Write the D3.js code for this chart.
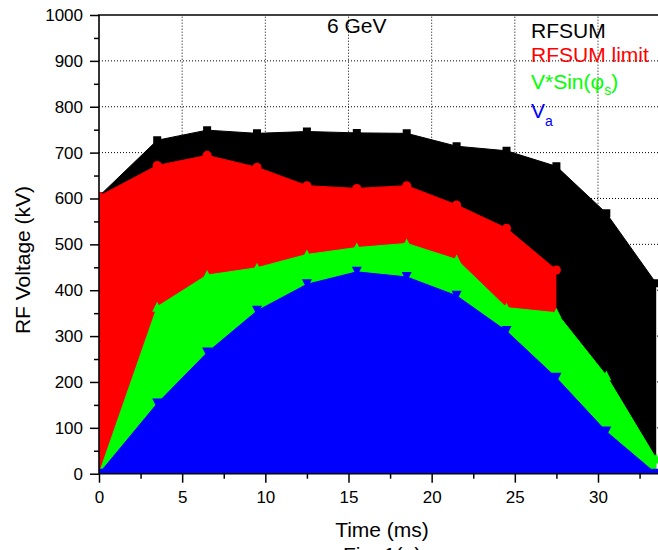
<!DOCTYPE html>
<html>
<head>
<meta charset="utf-8">
<script src="https://cdn.jsdelivr.net/npm/d3@7"></script>
<style>
  html, body { margin: 0; padding: 0; background: #fff; }
  svg { display: block; overflow: hidden; }
  text { font-family: "Liberation Sans", Arial, sans-serif; }
</style>
</head>
<body>
<div id="chart"></div>
<script>
// Time samples (ms) and RF voltages (kV) for the 6 GeV ramp
const times      = [0, 3.5, 6.5, 9.5, 12.5, 15.5, 18.5, 21.5, 24.5, 27.5, 30.5, 33.5];
const rfsum      = [605, 727, 749, 742, 746, 743, 742, 714, 704, 670, 568, 415];
const rfsumLimit = [605, 672, 694, 668, 628, 622, 628, 586, 535, 444];
const vSinPhi    = [0, 364, 433, 449, 478, 493, 502, 467, 362, 351, 214, 33];
const va         = [0, 153, 264, 355, 413, 440, 429, 388, 311, 209, 92, 0];

const xMajorTicks = [0, 5, 10, 15, 20, 25, 30];
const xMinorTicks = [2.5, 7.5, 12.5, 17.5, 22.5, 27.5, 32.5];
const yMajorTicks = [0, 100, 200, 300, 400, 500, 600, 700, 800, 900, 1000];
const yMinorTicks = [50, 150, 250, 350, 450, 550, 650, 750, 850, 950];

const W = 658, H = 550;
const plotLeft = 99, plotTop = 15, plotBottom = 473.7;
const pxPerMs = 16.633;
const xMax = 35;

const svg = d3.select("#chart").append("svg")
  .attr("width", W).attr("height", H);

const x = d3.scaleLinear().domain([0, xMax]).range([plotLeft, plotLeft + xMax * pxPerMs]);
const y = d3.scaleLinear().domain([0, 1000]).range([plotBottom, plotTop]);

svg.append("defs").append("clipPath").attr("id", "plot-clip")
  .append("rect")
  .attr("x", x(0)).attr("y", y(1000))
  .attr("width", x(xMax) - x(0)).attr("height", y(0) - y(1000));

// dotted grid behind the filled areas
const grid = svg.append("g").attr("clip-path", "url(#plot-clip)");
grid.selectAll("line.gx").data(xMajorTicks.filter(t => t > 0)).join("line")
  .attr("class", "gx")
  .attr("x1", d => x(d)).attr("x2", d => x(d))
  .attr("y1", y(0)).attr("y2", y(1000))
  .attr("stroke", "#000").attr("stroke-width", 1).attr("stroke-dasharray", "1,2");
grid.selectAll("line.gy").data(yMajorTicks.filter(v => v > 0 && v < 1000)).join("line")
  .attr("class", "gy")
  .attr("x1", x(0)).attr("x2", x(xMax))
  .attr("y1", d => y(d)).attr("y2", d => y(d))
  .attr("stroke", "#000").attr("stroke-width", 1).attr("stroke-dasharray", "1,2");

const series = [
  { name: "RFSUM",       values: rfsum,      color: "#000000", marker: "square" },
  { name: "RFSUM limit", values: rfsumLimit, color: "#ff0000", marker: "circle" },
  { name: "VsinPhi",     values: vSinPhi,    color: "#00ff00", marker: "up" },
  { name: "Va",          values: va,         color: "#0000ff", marker: "down" }
];

const plot = svg.append("g").attr("clip-path", "url(#plot-clip)");

const area = d3.area()
  .x(d => x(d.t)).y0(y(0)).y1(d => y(d.v));
const line = d3.line().x(d => x(d.t)).y(d => y(d.v));

function markerPath(kind, px, py) {
  if (kind === "square") return `M${px - 4},${py - 4}h8v8h-8Z`;
  if (kind === "up")   return `M${px - 5},${py + 5}L${px + 5},${py + 5}L${px},${py - 5}Z`;
  return `M${px - 5},${py - 5}L${px + 5},${py - 5}L${px},${py + 5}Z`;
}

series.forEach(s => {
  const pts = s.values.map((v, i) => ({ t: times[i], v }));
  const g = plot.append("g");
  g.append("path").datum(pts).attr("d", area).attr("fill", s.color);
  g.append("path").datum(pts).attr("d", line)
    .attr("fill", "none").attr("stroke", s.color).attr("stroke-width", 1);
  if (s.marker === "circle") {
    g.selectAll("circle").data(pts).join("circle")
      .attr("cx", d => x(d.t)).attr("cy", d => y(d.v)).attr("r", 4.5)
      .attr("fill", s.color);
  } else {
    g.selectAll("path.mk").data(pts).join("path")
      .attr("class", "mk")
      .attr("d", d => markerPath(s.marker, x(d.t), y(d.v)))
      .attr("fill", s.color);
  }
});

// axes
const axisFont = 17;
const yAxis = svg.append("g").attr("transform", `translate(${plotLeft},0)`)
  .call(d3.axisLeft(y).tickValues(yMajorTicks).tickSize(9).tickPadding(7).tickFormat(d3.format("d")));
const yMinor = svg.append("g").attr("transform", `translate(${plotLeft},0)`)
  .call(d3.axisLeft(y).tickValues(yMinorTicks).tickSize(5).tickFormat(""));
const xAxis = svg.append("g").attr("transform", `translate(0,${plotBottom})`)
  .call(d3.axisBottom(x).tickValues(xMajorTicks).tickSize(9).tickPadding(8).tickFormat(d3.format("d")));
const xMinor = svg.append("g").attr("transform", `translate(0,${plotBottom})`)
  .call(d3.axisBottom(x).tickValues(xMinorTicks).tickSize(5).tickFormat(""));

[yAxis, yMinor, xAxis, xMinor].forEach(a => {
  a.select(".domain").remove();
  a.selectAll(".tick line").attr("stroke", "#000").attr("stroke-width", 1.5);
  a.selectAll(".tick text")
    .attr("fill", "#000")
    .style("font-family", '"Liberation Sans", Arial, sans-serif')
    .style("font-size", axisFont + "px");
});

// frame lines: left, bottom, top
svg.append("line").attr("x1", plotLeft).attr("x2", plotLeft).attr("y1", plotTop).attr("y2", plotBottom)
  .attr("stroke", "#000").attr("stroke-width", 1.6);
svg.append("line").attr("x1", plotLeft).attr("x2", W).attr("y1", plotBottom).attr("y2", plotBottom)
  .attr("stroke", "#000").attr("stroke-width", 1.6);
svg.append("line").attr("x1", plotLeft - 1).attr("x2", W).attr("y1", plotTop).attr("y2", plotTop)
  .attr("stroke", "#000").attr("stroke-width", 1.6);

// axis titles
svg.append("text")
  .attr("transform", `translate(30,260) rotate(-90)`)
  .attr("text-anchor", "middle")
  .style("font-size", "21px")
  .text("RF Voltage (kV)");
svg.append("text")
  .attr("x", 382).attr("y", 537)
  .attr("text-anchor", "middle")
  .style("font-size", "21px")
  .text("Time (ms)");
// figure caption, running off the bottom of the page
svg.append("text")
  .attr("x", 343).attr("y", 561.5)
  .style("font-size", "21px")
  .text("Fig. 1(a)");

// beam energy label
svg.append("text")
  .attr("x", 327).attr("y", 33)
  .style("font-size", "21px")
  .text("6 GeV");

// legend
const lx = 531;
svg.append("text").attr("x", lx).attr("y", 37.7).attr("fill", "#000")
  .style("font-size", "21px").text("RFSUM");
svg.append("text").attr("x", lx).attr("y", 61.7).attr("fill", "#ff0000")
  .style("font-size", "21px").text("RFSUM limit");
const l3 = svg.append("text").attr("x", lx).attr("y", 89).attr("fill", "#00ff00")
  .style("font-size", "21px");
l3.append("tspan").text("V*Sin(");
l3.append("tspan").text("φ");
l3.append("tspan").attr("dy", 6).style("font-size", "14px").text("s");
l3.append("tspan").attr("dy", -6).text(")");
const l4 = svg.append("text").attr("x", lx).attr("y", 118).attr("fill", "#0000ff")
  .style("font-size", "21px");
l4.append("tspan").text("V");
l4.append("tspan").attr("dy", 8).style("font-size", "14px").text("a");
</script>
</body>
</html>
